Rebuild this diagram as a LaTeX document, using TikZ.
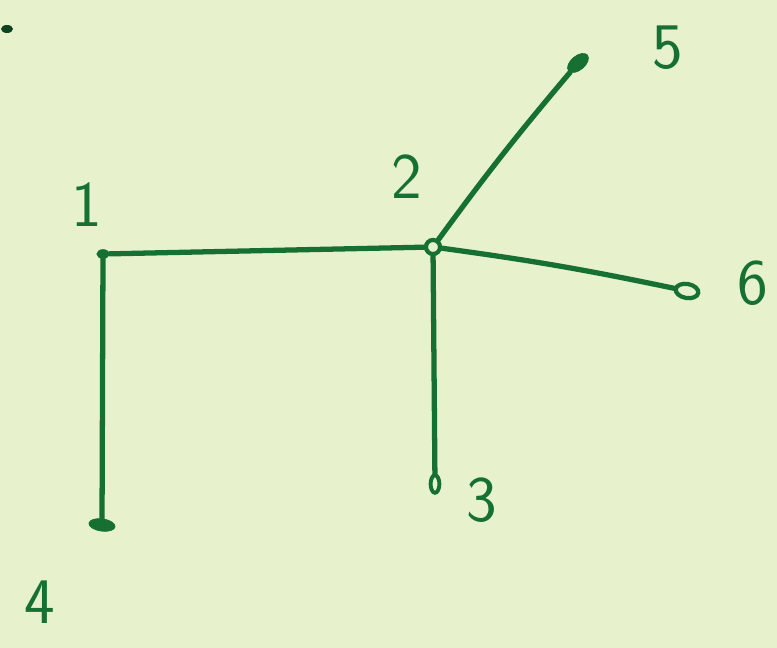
\documentclass[tikz,border=0pt]{standalone}
\usepackage{tikz}
\usetikzlibrary{positioning,shapes.geometric}
\definecolor{paperG}{RGB}{231,242,205}
\definecolor{inkG}{RGB}{22,112,50}

\tikzset{
  vtx/.style={circle, draw=inkG, line width=2.4pt, inner sep=0pt, minimum size=8pt},
  blob/.style={ellipse, draw=inkG, fill=inkG, inner sep=0pt},
  num/.style={text=inkG, font=\sffamily\fontsize{37}{40}\selectfont, inner sep=0pt},
  edge/.style={draw=inkG, line width=3pt, line cap=round},
}

\begin{document}
\begin{tikzpicture}[x=0.2mm, y=-0.2mm]
  % paper
  \fill[paperG] (0,0) rectangle (777,648);
  \useasboundingbox (0,0) rectangle (777,648);
  \fill[inkG!60!black] (7,29) ellipse (6 and 4);
  % vertices
  \node[blob, minimum width=7pt, minimum height=5pt] (n1) at (103,254) {};
  \node[vtx] (n2) at (433,247) {};
  \node[blob, minimum width=14pt, minimum height=8pt, rotate=40] (n5) at (578,63) {};
  \node[ellipse, draw=inkG, line width=2.4pt, minimum width=13pt, minimum height=8pt, inner sep=0pt, rotate=-10] (n6) at (687,291) {};
  \node[ellipse, draw=inkG, line width=2.2pt, minimum width=5pt, minimum height=10pt, inner sep=0pt] (n3) at (435,484) {};
  \node[blob, minimum width=15pt, minimum height=7pt, rotate=-8] (n4) at (102,525) {};
  % labels
  \node[num] (lab1) at (87,205) {1};
  \node[num] (lab2) at (407,177) {2};
  \node[num] (lab5) at (668,48) {5};
  \node[num] (lab6) at (753,283) {6};
  \node[num] (lab3) at (482,500) {3};
  \node[num] (lab4) at (40,602) {4};
  % edges
  \draw[edge] (n1) -- (n2);
  \draw[edge] (n1) -- (n4);
  \draw[edge] (n2) to[bend left=2] (n5);
  \draw[edge] (n2) to[bend left=2] (n6);
  \draw[edge] (n2) -- (n3);
\end{tikzpicture}
\end{document}
